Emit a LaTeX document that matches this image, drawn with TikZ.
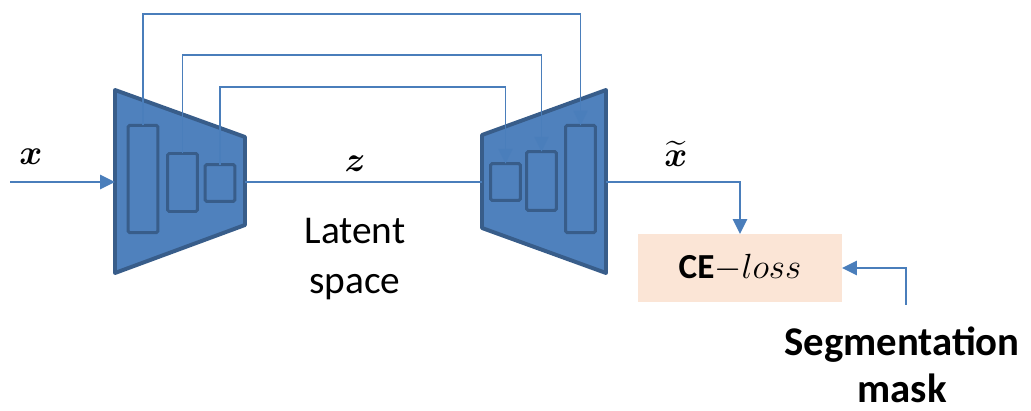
\documentclass[tikz,border=0pt]{standalone}
\usepackage{amsmath}
\usepackage{fontspec}
\setmainfont{Carlito}
\usetikzlibrary{arrows.meta}

\definecolor{aefill}{RGB}{79,129,189}
\definecolor{aedraw}{RGB}{56,93,138}
\definecolor{aelink}{RGB}{74,126,187}
\definecolor{aeloss}{RGB}{251,229,214}

\begin{document}
\begin{tikzpicture}[
  x=0.025cm,
  y=-0.025cm,
  every node/.style={inner sep=0pt, outer sep=0pt},
  net/.style={draw=aedraw, fill=aefill, line width=2.8pt, line join=round},
  layer/.style={draw=aedraw, fill=aefill, line width=2.1pt, rounded corners=1pt, minimum width=0.74cm},
  link/.style={draw=aelink, line width=1.4pt},
  flow/.style={link, -{Triangle[length=10.5pt, width=10pt]}},
  txt/.style={font=\fontsize{28}{35.5}\selectfont, align=center},
  mlabel/.style={font=\fontsize{32}{34}\selectfont, anchor=base},
  lossbox/.style={fill=aeloss, minimum width=5.1cm, minimum height=1.7cm, font=\fontsize{25}{27}\selectfont}
]

  \path[use as bounding box] (0,0) rectangle (1031,411);

  % Encoder
  \draw[net] (115,90) -- (245,137) -- (245,225) -- (115,273) -- cycle;
  \coordinate (encin) at (115,182);
  \coordinate (encout) at (245,182);
  \node[layer, minimum height=2.68cm] (enc1) at (143,179) {};
  \node[layer, minimum height=1.45cm] (enc2) at (182.5,182.5) {};
  \node[layer, minimum height=0.92cm] (enc3) at (220,183) {};

  % Decoder
  \draw[net] (482,135) -- (606,90) -- (606,273) -- (482,228) -- cycle;
  \coordinate (decin) at (482,182);
  \coordinate (decout) at (606,182);
  \node[layer, minimum height=0.92cm] (dec1) at (505.5,182) {};
  \node[layer, minimum height=1.47cm] (dec2) at (541.5,181) {};
  \node[layer, minimum height=2.68cm] (dec3) at (580.5,179) {};

  % Skip connections
  \draw[flow] (enc1.north) -- (enc1.north |- 0,14) -| (dec3.north);
  \draw[flow] (enc2.north) -- (enc2.north |- 0,55) -| (dec2.north);
  \draw[flow] (enc3.north) -- (enc3.north |- 0,87) -| (dec1.north);

  % Input and latent code
  \coordinate (xin) at (10,182);
  \draw[flow] (xin) -- (encin);
  \node[mlabel] (xlab) at (31,165) {$\boldsymbol{x}$};
  \draw[link] (encout) -- (decin);
  \node[mlabel] (zlab) at (355,172) {$\boldsymbol{z}$};
  \node[txt, anchor=north] (latent) at (355,218) {Latent\\space};

  % Loss
  \node[lossbox] (loss) at (740,268) {\textbf{CE}$-loss$};
  \draw[flow] (decout) -| (loss.north);
  \node[mlabel] (xtlab) at (676,167) {$\widetilde{\boldsymbol{x}}$};

  \coordinate (segsrc) at (906,305);
  \draw[flow] (segsrc) |- (loss.east);
  \node[txt, anchor=north, font=\bfseries\fontsize{29}{33.4}\selectfont] (seg) at (902,327) {Segmentation\\mask};

\end{tikzpicture}
\end{document}
